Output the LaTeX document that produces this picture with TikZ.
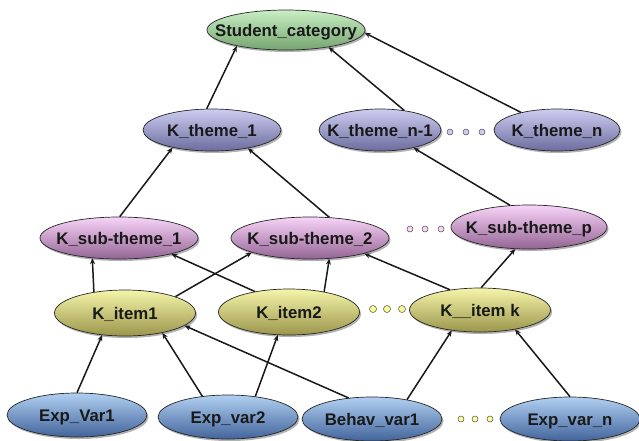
\documentclass[tikz,border=0pt]{standalone}
\usepackage{fontspec}
\setmainfont{Liberation Sans}
\usetikzlibrary{shapes.geometric,shadows,arrows.meta}

% label centred on the bubble without enlarging it
\newcommand\bubbletext[1]{\raisebox{-6pt}[0pt][0pt]{\makebox[0pt]{#1}}}

\definecolor{grnT}{RGB}{200,238,195}\definecolor{grnM}{RGB}{182,230,176}\definecolor{grnB}{RGB}{118,165,112}
\definecolor{lavT}{RGB}{205,205,242}\definecolor{lavM}{RGB}{192,192,240}\definecolor{lavB}{RGB}{108,108,158}
\definecolor{pnkT}{RGB}{248,212,248}\definecolor{pnkM}{RGB}{240,185,240}\definecolor{pnkB}{RGB}{148,100,148}
\definecolor{yelT}{RGB}{245,245,170}\definecolor{yelM}{RGB}{252,252,150}\definecolor{yelB}{RGB}{155,150,75}
\definecolor{bluT}{RGB}{176,208,242}\definecolor{bluM}{RGB}{145,186,232}\definecolor{bluB}{RGB}{66,100,155}

\tikzset{
  bubble/.style={ellipse, draw=black!85, line width=0.7pt, inner sep=0pt,
    font=\fontsize{16.8}{20}\selectfont\bfseries, text=black!90,
    drop shadow={shadow xshift=1.5pt, shadow yshift=-2pt, opacity=0.3, fill=black}},
  catbub/.style={bubble, top color=grnT, middle color=grnM, bottom color=grnB},
  thmbub/.style={bubble, top color=lavT, middle color=lavM, bottom color=lavB},
  subbub/.style={bubble, top color=pnkT, middle color=pnkM, bottom color=pnkB},
  itmbub/.style={bubble, top color=yelT, middle color=yelM, bottom color=yelB},
  varbub/.style={bubble, top color=bluT, middle color=bluM, bottom color=bluB},
  dotmark/.style={circle, draw=black!70, line width=0.5pt, inner sep=0pt, minimum size=#1},
  dotmark/.default=6pt,
  link/.style={-{Stealth[length=6pt,width=5pt]}, line width=1.5pt, draw=black!90},
}

\begin{document}
\begin{tikzpicture}[x=1pt,y=-1pt]
\useasboundingbox (0,0) rectangle (639,440);

% top category
\node[catbub, minimum width=158pt, minimum height=40pt] (sc) at (286,30) {\bubbletext{Student\_category}};

% themes
\node[thmbub, minimum width=138pt, minimum height=42pt] (t1)  at (212,130) {\bubbletext{K\_theme\_1}};
\node[thmbub, minimum width=122pt, minimum height=42pt] (tn1) at (380,130) {\bubbletext{K\_theme\_n-1}};
\node[thmbub, minimum width=126pt, minimum height=42pt] (tn)  at (557,130) {\bubbletext{K\_theme\_n}};
\node[dotmark, fill=lavT] (td1) at (450,132) {};
\node[dotmark, fill=lavT] (td2) at (466,132) {};
\node[dotmark, fill=lavT] (td3) at (482,132) {};

% sub-themes
\node[subbub, minimum width=158pt, minimum height=42pt] (s1) at (119,238) {\bubbletext{K\_sub-theme\_1}};
\node[subbub, minimum width=158pt, minimum height=42pt] (s2) at (310,238) {\bubbletext{K\_sub-theme\_2}};
\node[subbub, minimum width=156pt, minimum height=44pt] (sp) at (529,227) {\bubbletext{K\_sub-theme\_p}};
\node[dotmark, fill=pnkT] (sd1) at (410,229) {};
\node[dotmark, fill=pnkT] (sd2) at (425,229) {};
\node[dotmark, fill=pnkT] (sd3) at (441,229) {};

% items
\node[itmbub, minimum width=141pt, minimum height=46pt] (i1) at (125,313) {\bubbletext{K\_item1}};
\node[itmbub, minimum width=141pt, minimum height=46pt] (i2) at (289,312) {\bubbletext{K\_item2}};
\node[itmbub, minimum width=141pt, minimum height=44pt] (ik) at (480,310) {\bubbletext{K\_\_item k}};
\node[dotmark=7pt, fill=yelM] (id1) at (373,309) {};
\node[dotmark=7pt, fill=yelM] (id2) at (387,309) {};
\node[dotmark=7pt, fill=yelM] (id3) at (402,309) {};

% observed variables
\node[varbub, minimum width=140pt, minimum height=44pt] (e1) at (77,415)  {\bubbletext{Exp\_Var1}};
\node[varbub, minimum width=140pt, minimum height=44pt] (e2) at (228,417) {\bubbletext{Exp\_var2}};
\node[varbub, minimum width=140pt, minimum height=44pt] (b1) at (372,419) {\bubbletext{Behav\_var1}};
\node[varbub, minimum width=140pt, minimum height=44pt] (en) at (570,419) {\bubbletext{Exp\_var\_n}};
\node[dotmark, fill=yelM] (vd1) at (461,419) {};
\node[dotmark, fill=yelM] (vd2) at (475,419) {};
\node[dotmark, fill=yelM] (vd3) at (490,419) {};

% themes -> category
\draw[link] (t1.104)  -- (sc.-162);
\draw[link] (tn1.39)  -- (sc.-22);
\draw[link] (tn.154)  -- (sc.-2);

% sub-themes -> themes
\draw[link] (s1.88)   -- (t1.-156);
\draw[link] (s2.47)   -- (t1.-27);
\draw[link] (sp.131)  -- (tn1.-28);

% items -> sub-themes
\draw[link] (i1.146)  -- (s1.-143);
\draw[link] (i1.18)   -- (s2.-166);
\draw[link] (i2.149)  -- (s1.-17);
\draw[link] (i2.30)   -- (s2.-47);
\draw[link] (ik.146)  -- (s2.-16);
\draw[link] (ik.87)   -- (sp.-122);

% variables -> items
\draw[link] (e1.90)   -- (i1.-136);
\draw[link] (e2.141)  -- (i1.-28);
\draw[link] (e2.37)   -- (i2.-116);
\draw[link] (b1.138)  -- (i1.-12);
\draw[link] (b1.29)   -- (ik.-144);
\draw[link] (en.90)   -- (ik.-29);
\end{tikzpicture}
\end{document}
